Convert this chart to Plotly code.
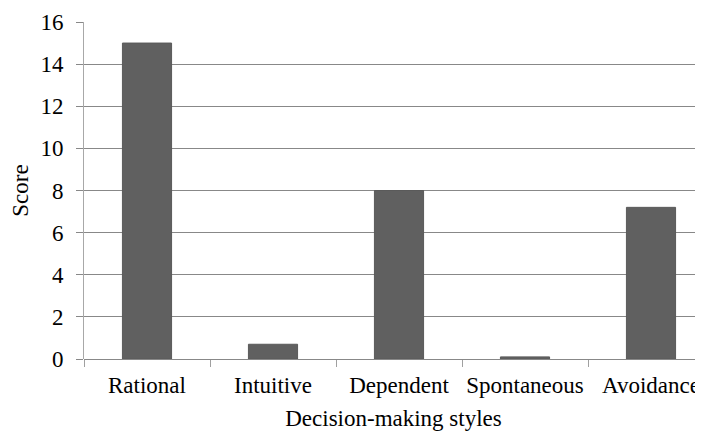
import plotly.graph_objects as go

categories = ["Rational", "Intuitive", "Dependent", "Spontaneous", "Avoidance"]
scores = [15.0, 0.7, 8.0, 0.1, 7.2]
y_ticks = [0, 2, 4, 6, 8, 10, 12, 14, 16]

font_family = "Liberation Serif"
fs = 23

fig = go.Figure(
    go.Bar(
        x=categories,
        y=scores,
        width=0.39,
        marker=dict(color="#606060", line=dict(color="#5a5a5a", width=1)),
    )
)

# the page body has an 8px default margin, so the figure is sized to fit the window
fig.update_layout(
    width=695,
    height=423,
    margin=dict(l=76, r=0, t=14, b=72, autoexpand=False),
    paper_bgcolor="white",
    plot_bgcolor="white",
    showlegend=False,
    font=dict(family=font_family, size=fs, color="#000000"),
)

fig.update_xaxes(
    range=[-0.5, 4.5 - 11 / 126],
    automargin=False,
    tickangle=0,
    tickson="boundaries",
    ticks="outside",
    ticklen=7,
    tickcolor="#a0a0a0",
    ticklabelstandoff=10,
    showgrid=False,
    showline=False,
    tickfont=dict(family=font_family, size=fs),
    title=dict(text="Decision-making styles", font=dict(family=font_family, size=fs), standoff=17),
)

fig.update_yaxes(
    range=[0, 16],
    automargin=False,
    tickvals=y_ticks,
    ticks="outside",
    ticklen=7,
    tickcolor="#888888",
    ticklabelstandoff=8,
    showgrid=True,
    gridcolor="#888888",
    gridwidth=1,
    zeroline=True,
    zerolinecolor="#888888",
    zerolinewidth=1,
    showline=True,
    linecolor="#a8a8a8",
    linewidth=1,
    tickfont=dict(family=font_family, size=fs),
    title=dict(text="Score", font=dict(family=font_family, size=fs), standoff=18),
)

fig.write_html("out.html")
